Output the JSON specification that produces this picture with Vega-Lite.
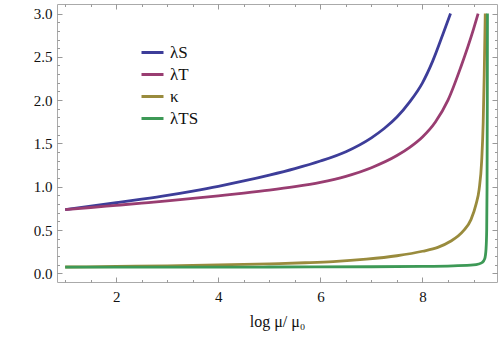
{
  "$schema": "https://vega.github.io/schema/vega-lite/v6.json",
  "width": 440,
  "height": 278,
  "autosize": "none",
  "padding": {"left": 57, "top": 4, "right": 1, "bottom": 56},
  "background": "white",
  "config": {
    "view": {"stroke": "#aaaaaa", "strokeWidth": 1},
    "axis": {"grid": false, "domain": false, "tickColor": "#999999", "tickWidth": 1, "labelFont": "Liberation Serif", "labelFontSize": 15, "labelColor": "#111111", "titleFont": "Liberation Serif", "titleFontSize": 16, "titleFontWeight": "normal", "titleColor": "#111111"}
  },
  "data": {
    "values": [
      {"x": 1.0, "v": 0.736, "s": "λS"},
      {"x": 1.5, "v": 0.775, "s": "λS"},
      {"x": 2.0, "v": 0.815, "s": "λS"},
      {"x": 2.5, "v": 0.856, "s": "λS"},
      {"x": 3.0, "v": 0.9, "s": "λS"},
      {"x": 3.5, "v": 0.95, "s": "λS"},
      {"x": 4.0, "v": 1.005, "s": "λS"},
      {"x": 4.5, "v": 1.067, "s": "λS"},
      {"x": 5.0, "v": 1.135, "s": "λS"},
      {"x": 5.5, "v": 1.21, "s": "λS"},
      {"x": 6.0, "v": 1.297, "s": "λS"},
      {"x": 6.5, "v": 1.405, "s": "λS"},
      {"x": 7.0, "v": 1.565, "s": "λS"},
      {"x": 7.25, "v": 1.672, "s": "λS"},
      {"x": 7.5, "v": 1.805, "s": "λS"},
      {"x": 7.75, "v": 1.98, "s": "λS"},
      {"x": 8.0, "v": 2.2, "s": "λS"},
      {"x": 8.2, "v": 2.45, "s": "λS"},
      {"x": 8.4, "v": 2.76, "s": "λS"},
      {"x": 8.55, "v": 3.0, "s": "λS"},
      {"x": 1.0, "v": 0.736, "s": "λT"},
      {"x": 1.5, "v": 0.76, "s": "λT"},
      {"x": 2.0, "v": 0.785, "s": "λT"},
      {"x": 2.5, "v": 0.81, "s": "λT"},
      {"x": 3.0, "v": 0.836, "s": "λT"},
      {"x": 3.5, "v": 0.865, "s": "λT"},
      {"x": 4.0, "v": 0.895, "s": "λT"},
      {"x": 4.5, "v": 0.926, "s": "λT"},
      {"x": 5.0, "v": 0.96, "s": "λT"},
      {"x": 5.5, "v": 1.0, "s": "λT"},
      {"x": 6.0, "v": 1.05, "s": "λT"},
      {"x": 6.5, "v": 1.12, "s": "λT"},
      {"x": 7.0, "v": 1.22, "s": "λT"},
      {"x": 7.5, "v": 1.36, "s": "λT"},
      {"x": 7.75, "v": 1.455, "s": "λT"},
      {"x": 8.0, "v": 1.575, "s": "λT"},
      {"x": 8.25, "v": 1.745, "s": "λT"},
      {"x": 8.5, "v": 2.0, "s": "λT"},
      {"x": 8.75, "v": 2.38, "s": "λT"},
      {"x": 9.0, "v": 2.82, "s": "λT"},
      {"x": 9.09, "v": 3.0, "s": "λT"},
      {"x": 1.0, "v": 0.073, "s": "κ"},
      {"x": 2.0, "v": 0.079, "s": "κ"},
      {"x": 3.0, "v": 0.087, "s": "κ"},
      {"x": 4.0, "v": 0.097, "s": "κ"},
      {"x": 5.0, "v": 0.11, "s": "κ"},
      {"x": 5.7, "v": 0.122, "s": "κ"},
      {"x": 6.25, "v": 0.135, "s": "κ"},
      {"x": 6.9, "v": 0.163, "s": "κ"},
      {"x": 7.5, "v": 0.203, "s": "κ"},
      {"x": 8.0, "v": 0.255, "s": "κ"},
      {"x": 8.3, "v": 0.3, "s": "κ"},
      {"x": 8.55, "v": 0.37, "s": "κ"},
      {"x": 8.8, "v": 0.49, "s": "κ"},
      {"x": 8.95, "v": 0.62, "s": "κ"},
      {"x": 9.05, "v": 0.8, "s": "κ"},
      {"x": 9.11, "v": 0.97, "s": "κ"},
      {"x": 9.16, "v": 1.3, "s": "κ"},
      {"x": 9.19, "v": 1.75, "s": "κ"},
      {"x": 9.21, "v": 2.3, "s": "κ"},
      {"x": 9.23, "v": 3.0, "s": "κ"},
      {"x": 1.0, "v": 0.072, "s": "λTS"},
      {"x": 3.0, "v": 0.072, "s": "λTS"},
      {"x": 5.0, "v": 0.073, "s": "λTS"},
      {"x": 7.0, "v": 0.076, "s": "λTS"},
      {"x": 8.0, "v": 0.08, "s": "λTS"},
      {"x": 8.6, "v": 0.087, "s": "λTS"},
      {"x": 9.0, "v": 0.097, "s": "λTS"},
      {"x": 9.1, "v": 0.108, "s": "λTS"},
      {"x": 9.17, "v": 0.125, "s": "λTS"},
      {"x": 9.22, "v": 0.17, "s": "λTS"},
      {"x": 9.245, "v": 0.28, "s": "λTS"},
      {"x": 9.258, "v": 0.5, "s": "λTS"},
      {"x": 9.265, "v": 1.0, "s": "λTS"},
      {"x": 9.27, "v": 2.0, "s": "λTS"},
      {"x": 9.273, "v": 3.0, "s": "λTS"}
    ]
  },
  "resolve": {"axis": {"x": "independent", "y": "independent"}},
  "layer": [
    {
      "mark": {"type": "line", "opacity": 0},
      "encoding": {
        "x": {"field": "x", "type": "quantitative", "scale": {"domain": [0.84, 9.46], "nice": false, "zero": false}, "axis": {"orient": "bottom", "values": [1,1.5,2,2.5,3,3.5,4,4.5,5,5.5,6,6.5,7,7.5,8,8.5,9], "labels": false, "ticks": true, "tickSize": -2.5, "title": null}},
        "y": {"field": "v", "type": "quantitative", "scale": {"domain": [-0.1, 3.11], "nice": false, "zero": false}, "axis": {"orient": "left", "values": [0,0.1,0.2,0.3,0.4,0.5,0.6,0.7,0.8,0.9,1,1.1,1.2,1.3,1.4,1.5,1.6,1.7,1.8,1.9,2,2.1,2.2,2.3,2.4,2.5,2.6,2.7,2.8,2.9,3], "labels": false, "ticks": true, "tickSize": -2.5, "title": null}}
      }
    },
    {
      "mark": {"type": "line", "opacity": 0},
      "encoding": {
        "x": {"field": "x", "type": "quantitative", "axis": {"orient": "top", "values": [1,1.5,2,2.5,3,3.5,4,4.5,5,5.5,6,6.5,7,7.5,8,8.5,9], "labels": false, "ticks": true, "tickSize": -2.5, "title": null}},
        "y": {"field": "v", "type": "quantitative", "axis": {"orient": "right", "values": [0,0.1,0.2,0.3,0.4,0.5,0.6,0.7,0.8,0.9,1,1.1,1.2,1.3,1.4,1.5,1.6,1.7,1.8,1.9,2,2.1,2.2,2.3,2.4,2.5,2.6,2.7,2.8,2.9,3], "labels": false, "ticks": true, "tickSize": -2.5, "title": null}}
      }
    },
    {
      "mark": {"type": "line", "opacity": 0},
      "encoding": {
        "x": {"field": "x", "type": "quantitative", "axis": {"orient": "top", "values": [2,4,6,8], "labels": false, "ticks": true, "tickSize": -5, "title": null}},
        "y": {"field": "v", "type": "quantitative", "axis": {"orient": "right", "values": [0,0.5,1,1.5,2,2.5,3], "labels": false, "ticks": true, "tickSize": -5, "title": null}}
      }
    },
    {
      "mark": {"type": "line", "opacity": 0},
      "encoding": {
        "x": {"field": "x", "type": "quantitative", "axis": {"orient": "bottom", "values": [2,4,6,8], "labels": false, "ticks": true, "tickSize": -5, "title": null}},
        "y": {"field": "v", "type": "quantitative", "axis": {"orient": "left", "values": [0,0.5,1,1.5,2,2.5,3], "labels": false, "ticks": true, "tickSize": -5, "title": null}}
      }
    },
    {
      "mark": {"type": "line", "strokeWidth": 2.8, "interpolate": "monotone", "clip": true},
      "encoding": {
        "x": {"field": "x", "type": "quantitative", "axis": {"orient": "bottom", "values": [2,4,6,8], "format": "d", "ticks": false, "labelFont": "Liberation Serif", "labelFontSize": 15, "labelPadding": 7, "title": "log  μ/ μ₀", "titleFont": "Liberation Serif", "titlePadding": 9}},
        "y": {"field": "v", "type": "quantitative", "axis": {"orient": "left", "values": [0,0.5,1,1.5,2,2.5,3], "format": ".1f", "ticks": false, "labelFont": "Liberation Serif", "labelFontSize": 15, "labelPadding": 5, "title": null}},
        "color": {"field": "s", "type": "nominal", "scale": {"domain": ["λS","λT","κ","λTS"], "range": ["#3d3d99","#993d71","#998b3d","#3d9956"]}, "legend": {"orient": "none", "legendX": 83, "legendY": 36, "title": null, "symbolType": "stroke", "symbolStrokeWidth": 3, "symbolSize": 484, "labelFont": "Liberation Serif", "labelFontSize": 17, "labelColor": "#111111", "rowPadding": 1, "labelOffset": 5, "padding": 0}}
      }
    }
  ]
}
